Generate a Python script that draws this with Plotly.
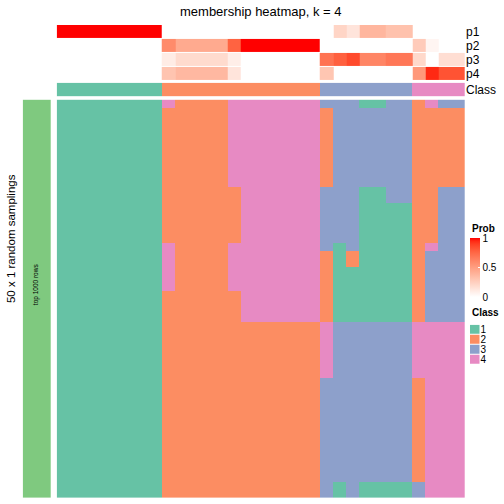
import plotly.graph_objects as go

# ---------------- data ----------------
n_cols = 31
col_class = [1]*8 + [2]*12 + [3]*7 + [4]*4

p1 = [1, 1, 1, 1, 1, 1, 1, 1, 0, 0, 0, 0, 0, 0, 0, 0, 0, 0, 0, 0, 0, 0.22, 0.14, 0.38, 0.38, 0.32, 0.32, 0, 0, 0, 0]
p2 = [0, 0, 0, 0, 0, 0, 0, 0, 0.59, 0.44, 0.44, 0.44, 0.44, 0.77, 1, 1, 1, 1, 1, 1, 0, 0, 0, 0, 0, 0, 0, 0.27, 0.05, 0, 0]
p3 = [0, 0, 0, 0, 0, 0, 0, 0, 0.10, 0.19, 0.19, 0.19, 0.19, 0.09, 0, 0, 0, 0, 0, 0, 0.70, 0.78, 0.86, 0.62, 0.62, 0.68, 0.68, 0.20, 0, 0.17, 0.17]
p4 = [0, 0, 0, 0, 0, 0, 0, 0, 0.31, 0.37, 0.37, 0.37, 0.37, 0.14, 0, 0, 0, 0, 0, 0, 0.30, 0, 0, 0, 0, 0, 0, 0.53, 0.95, 0.83, 0.83]
prob_names = ["p1", "p2", "p3", "p4"]

# 50 random samplings (rows) x 31 samples (columns), class labels
sampling_rows = [
    "11111111 4 2222 4 444444 3 3 3 11 33 2 4 33",
    "11111111 2 2222 4 444444 2 3 3 33 33 2 2 22",
    "11111111 2 2222 4 444444 2 3 3 33 33 2 2 22",
    "11111111 2 2222 4 444444 2 3 3 33 33 2 2 22",
    "11111111 2 2222 4 444444 2 3 3 33 33 2 2 22",
    "11111111 2 2222 4 444444 2 3 3 33 33 2 2 22",
    "11111111 2 2222 4 444444 2 3 3 33 33 2 2 22",
    "11111111 2 2222 4 444444 2 3 3 33 33 2 2 22",
    "11111111 2 2222 4 444444 2 3 3 33 33 2 2 22",
    "11111111 2 2222 4 444444 2 3 3 33 33 2 2 22",
    "11111111 2 2222 4 444444 2 3 3 33 33 2 2 22",
    "11111111 2 2222 2 444444 3 3 3 11 33 2 2 33",
    "11111111 2 2222 2 444444 3 3 3 11 33 2 2 33",
    "11111111 2 2222 2 444444 3 3 3 11 11 2 2 33",
    "11111111 2 2222 2 444444 3 3 3 11 11 2 2 33",
    "11111111 2 2222 2 444444 3 3 3 11 11 2 2 33",
    "11111111 2 2222 2 444444 3 3 3 11 11 2 2 33",
    "11111111 2 2222 2 444444 3 3 3 11 11 2 2 33",
    "11111111 4 2222 4 444444 3 1 3 11 11 2 4 33",
    "11111111 4 2222 4 444444 2 1 2 11 11 2 3 33",
    "11111111 4 2222 4 444444 2 1 2 11 11 2 3 33",
    "11111111 4 2222 4 444444 2 1 1 11 11 2 3 33",
    "11111111 4 2222 4 444444 2 1 1 11 11 2 3 33",
    "11111111 4 2222 4 444444 2 1 1 11 11 2 3 33",
    "11111111 2 2222 2 444444 2 1 1 11 11 2 3 33",
    "11111111 2 2222 2 444444 2 1 1 11 11 2 3 33",
    "11111111 2 2222 2 444444 2 1 1 11 11 2 3 33",
    "11111111 2 2222 2 444444 2 1 1 11 11 2 3 33",
    "11111111 2 2222 2 222222 4 3 3 33 33 4 4 44",
    "11111111 2 2222 2 222222 4 3 3 33 33 4 4 44",
    "11111111 2 2222 2 222222 4 3 3 33 33 4 4 44",
    "11111111 2 2222 2 222222 4 3 3 33 33 4 4 44",
    "11111111 2 2222 2 222222 4 3 3 33 33 4 4 44",
    "11111111 2 2222 2 222222 4 3 3 33 33 4 4 44",
    "11111111 2 2222 2 222222 4 3 3 33 33 4 4 44",
    "11111111 2 2222 2 222222 3 3 3 33 33 2 4 44",
    "11111111 2 2222 2 222222 3 3 3 33 33 2 4 44",
    "11111111 2 2222 2 222222 3 3 3 33 33 2 4 44",
    "11111111 2 2222 2 222222 3 3 3 33 33 2 4 44",
    "11111111 2 2222 2 222222 3 3 3 33 33 2 4 44",
    "11111111 2 2222 2 222222 3 3 3 33 33 2 4 44",
    "11111111 2 2222 2 222222 3 3 3 33 33 2 4 44",
    "11111111 2 2222 2 222222 3 3 3 33 33 2 4 44",
    "11111111 2 2222 2 222222 3 3 3 33 33 2 4 44",
    "11111111 2 2222 2 222222 3 3 3 33 33 2 4 44",
    "11111111 2 2222 2 222222 3 3 3 33 33 2 4 44",
    "11111111 2 2222 2 222222 3 3 3 33 33 2 4 44",
    "11111111 2 2222 2 222222 3 3 3 33 33 2 4 44",
    "11111111 2 2222 2 222222 3 1 3 11 11 3 4 44",
    "11111111 2 2222 2 222222 3 1 3 11 11 3 4 44",
]
class_levels = ["1", "2", "3", "4"]

title_text = "membership heatmap, k = 4"
row_title = "50 x 1 random samplings"
slice_title = "top 1000 rows"

# ---------------- styles ----------------
W = H = 504
FONT = "Liberation Sans, Arial, Helvetica, sans-serif"
set2 = ["#66C2A5", "#FC8D62", "#8DA0CB", "#E78AC3"]
class_cs = []
for i, c in enumerate(set2):
    class_cs += [[i / 4, c], [(i + 1) / 4, c]]


def _lin(c):
    c = c / 255
    return c / 12.92 if c <= 0.04045 else ((c + 0.055) / 1.055) ** 2.4


def _rgb2lab(r, g, b):
    R, G, B = _lin(r), _lin(g), _lin(b)
    X = (0.4124 * R + 0.3576 * G + 0.1805 * B) / 0.95047
    Y = (0.2126 * R + 0.7152 * G + 0.0722 * B)
    Z = (0.0193 * R + 0.1192 * G + 0.9505 * B) / 1.08883
    f = lambda t: t ** (1 / 3) if t > 0.008856 else 7.787 * t + 16 / 116
    fx, fy, fz = f(X), f(Y), f(Z)
    return 116 * fy - 16, 500 * (fx - fy), 200 * (fy - fz)


def _lab2rgb(L, a, b):
    fy = (L + 16) / 116
    fx = fy + a / 500
    fz = fy - b / 200
    fi = lambda t: t ** 3 if t ** 3 > 0.008856 else (t - 16 / 116) / 7.787
    X, Y, Z = 0.95047 * fi(fx), fi(fy), 1.08883 * fi(fz)
    R = 3.2406 * X - 1.5372 * Y - 0.4986 * Z
    G = -0.9689 * X + 1.8758 * Y + 0.0415 * Z
    B = 0.0557 * X - 0.2040 * Y + 1.0570 * Z
    g = lambda c: 12.92 * c if c <= 0.0031308 else 1.055 * c ** (1 / 2.4) - 0.055
    return tuple(int(round(255 * min(1, max(0, g(c))))) for c in (R, G, B))


lw, lr = _rgb2lab(255, 255, 255), _rgb2lab(255, 0, 0)
prob_cs = []
for i in range(21):
    t = i / 20
    lab = [lw[k] + (lr[k] - lw[k]) * t for k in range(3)]
    prob_cs.append([t, "rgb(%d,%d,%d)" % _lab2rgb(*lab)])

main_z = [[int(ch) for ch in r.replace(" ", "")] for r in sampling_rows]
n_rows = len(main_z)


def py(pix):
    return 1 - pix / H


def px(pix):
    return pix / W


fig = go.Figure()

fig.add_trace(go.Heatmap(
    z=main_z, colorscale=class_cs, zmin=0.5, zmax=4.5, showscale=False,
    xaxis="x", yaxis="y", hoverinfo="skip"))

fig.add_trace(go.Heatmap(
    z=[p1, p2, p3, p4], colorscale=prob_cs, zmin=0, zmax=1, ygap=1,
    xaxis="x", yaxis="y2", hoverinfo="skip",
    colorbar=dict(
        x=px(470), xanchor="left", y=py(238), yanchor="top",
        len=59 / H, lenmode="fraction", thickness=9.5, thicknessmode="pixels",
        outlinewidth=0, xpad=0, ypad=0,
        tickvals=[0, 0.5, 1], ticktext=["0", "0.5", "1"],
        ticks="inside", ticklen=2, tickcolor="white", tickwidth=1,
        tickfont=dict(family=FONT, size=10, color="black"))))

fig.add_trace(go.Heatmap(
    z=[col_class], colorscale=class_cs, zmin=0.5, zmax=4.5, showscale=False,
    xaxis="x", yaxis="y3", hoverinfo="skip"))

fig.add_trace(go.Heatmap(
    z=[[1]], colorscale=[[0, "#7FC97F"], [1, "#7FC97F"]], showscale=False,
    xaxis="x2", yaxis="y4", hoverinfo="skip"))

fig.add_trace(go.Heatmap(
    z=[[1], [2], [3], [4]], colorscale=class_cs, zmin=0.5, zmax=4.5,
    showscale=False, ygap=1, xaxis="x3", yaxis="y5", hoverinfo="skip"))

hid = dict(visible=False, showgrid=False, zeroline=False, fixedrange=True)
lab_axis = dict(showgrid=False, zeroline=False, showline=False, ticks="",
                side="right", fixedrange=True)

fig.update_layout(
    width=W, height=H, margin=dict(l=0, r=0, t=0, b=0),
    paper_bgcolor="white", plot_bgcolor="white",
    font=dict(family=FONT, color="black"),
    xaxis=dict(domain=[px(56.7), px(465)], range=[-0.5, n_cols - 0.5], anchor="y", **hid),
    yaxis=dict(domain=[py(499), py(99)], range=[n_rows - 0.5, -0.5], anchor="x", **hid),
    yaxis2=dict(domain=[py(80), py(24)], range=[3.5, -0.5], anchor="x",
                tickvals=[0, 1, 2, 3], ticktext=prob_names,
                tickfont=dict(family=FONT, size=12), **lab_axis),
    yaxis3=dict(domain=[py(95.7), py(82)], range=[-0.5, 0.5], anchor="x",
                tickvals=[0], ticktext=["Class"],
                tickfont=dict(family=FONT, size=12), **lab_axis),
    xaxis2=dict(domain=[px(22.7), px(51)], range=[-0.5, 0.5], anchor="y4", **hid),
    yaxis4=dict(domain=[py(499), py(99)], range=[-0.5, 0.5], anchor="x2", **hid),
    xaxis3=dict(domain=[px(470), px(479.5)], range=[-0.5, 0.5], anchor="y5", **hid),
    yaxis5=dict(domain=[py(365), py(325)], range=[3.5, -0.5], anchor="x3",
                tickvals=[0, 1, 2, 3], ticktext=class_levels,
                tickfont=dict(family=FONT, size=10), **lab_axis),
    annotations=[
        dict(text=title_text, x=px(261), y=py(11), xref="paper", yref="paper",
             xanchor="center", yanchor="middle",
             showarrow=False, font=dict(family=FONT, size=13)),
        dict(text="<b>Prob</b>", x=px(470), y=py(228), xref="paper", yref="paper",
             xanchor="left", yanchor="middle", showarrow=False,
             font=dict(family=FONT, size=10)),
        dict(text="<b>Class</b>", x=px(470), y=py(313), xref="paper", yref="paper",
             xanchor="left", yanchor="middle", showarrow=False,
             font=dict(family=FONT, size=10)),
        dict(text=slice_title, x=px(36.8), y=py(284.5), xref="paper", yref="paper",
             xanchor="center", yanchor="middle",
             textangle=-90, showarrow=False, font=dict(family=FONT, size=6.5)),
        dict(text=row_title, x=px(11), y=py(239), xref="paper", yref="paper",
             xanchor="center", yanchor="middle",
             textangle=-90, showarrow=False, font=dict(family=FONT, size=11.5)),
    ],
)

fig.write_html("out.html", config={"displayModeBar": False},
               post_script="document.body.style.margin='0';document.body.style.padding='0';")
